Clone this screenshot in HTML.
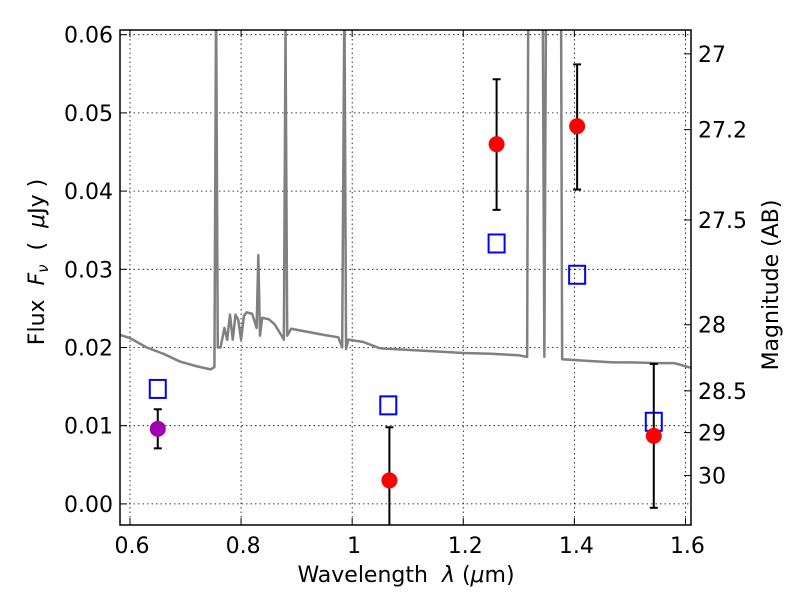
<!DOCTYPE html>
<html><head><meta charset="utf-8"><style>
body{margin:0;background:#fff}
svg text{font-family:"DejaVu Sans","Liberation Sans",sans-serif;fill:#000}
</style></head><body>
<svg id="chart" width="800" height="600">
<rect width="800" height="600" fill="#fff"/>
<g id="grid"></g>
<g id="spec"></g>
<g id="marks"></g>
<rect x="120" y="30" width="571" height="495" fill="none" stroke="#000" stroke-width="1.5"/>
<g id="axes"></g>
<text x="406" y="582" font-size="22" text-anchor="middle" xml:space="preserve">Wavelength  <tspan font-style="italic">λ</tspan> (<tspan font-style="italic">μ</tspan>m)</text>
<text transform="translate(44,262) rotate(-90)" font-size="22" text-anchor="middle" xml:space="preserve">Flux  <tspan font-style="italic">F</tspan><tspan font-style="italic" font-size="15" dy="4">ν</tspan><tspan dy="-4">  (  </tspan><tspan font-style="italic">μ</tspan>Jy )</text>
<text transform="translate(778,285) rotate(-90)" font-size="22" text-anchor="middle">Magnitude (AB)</text>
</svg>
<script>
const xTicks=[0.6,0.8,1.0,1.2,1.4,1.6];
const xTickLabels=["0.6","0.8","1","1.2","1.4","1.6"];
const yTicks=[0,0.01,0.02,0.03,0.04,0.05,0.06];
const yTickLabels=["0.00","0.01","0.02","0.03","0.04","0.05","0.06"];
const magTicks=[27,27.2,27.5,28,28.5,29,30];
const magTickLabels=["27","27.2","27.5","28","28.5","29","30"];
const specWave=[0.582,0.60,0.63,0.66,0.69,0.72,0.745,0.752,0.755,0.758,0.763,0.77,0.775,0.78,0.785,0.79,0.795,0.80,0.805,0.81,0.82,0.828,0.831,0.834,0.838,0.85,0.86,0.873,0.877,0.880,0.883,0.89,0.92,0.95,0.975,0.982,0.986,0.989,0.993,1.02,1.05,1.1,1.15,1.2,1.25,1.30,1.315,1.317,1.343,1.346,1.349,1.376,1.378,1.42,1.47,1.50,1.55,1.58,1.61];
const specFlux=[0.0216,0.0212,0.0200,0.0192,0.0182,0.0176,0.0172,0.0175,0.065,0.0200,0.0200,0.0225,0.0210,0.0242,0.0210,0.0242,0.0235,0.0210,0.0240,0.0245,0.0243,0.0225,0.0318,0.0215,0.0238,0.0236,0.0230,0.0215,0.0210,0.0605,0.0215,0.0224,0.0220,0.0216,0.0213,0.0200,0.065,0.0198,0.0210,0.0207,0.0199,0.0197,0.0195,0.0193,0.0192,0.0190,0.0188,0.065,0.065,0.0188,0.065,0.065,0.0185,0.0183,0.0181,0.0181,0.0180,0.0180,0.0174];
const modelWave=[0.65,1.065,1.26,1.405,1.543];
const modelFlux=[0.0147,0.0126,0.0333,0.0293,0.0105];
const obsWave=[0.65,1.067,1.26,1.405,1.543];
const obsFlux=[0.0096,0.0030,0.0460,0.0483,0.0087];
const obsLo=[0.0071,-0.0040,0.0376,0.0402,-0.0005];
const obsHi=[0.0121,0.0098,0.0543,0.0562,0.0179];
const obsColor=["#a000b0","red","red","red","red"];

const L=120,R=691,T=30,B=525,X0=0.582,X1=1.610,Y0=-0.0027,Y1=0.0606;
const sx=v=>L+(v-X0)/(X1-X0)*(R-L);
const sy=v=>B-(v-Y0)/(Y1-Y0)*(B-T);
const NS="http://www.w3.org/2000/svg";
function mk(parent,tag,attrs){const e=document.createElementNS(NS,tag);for(const k in attrs)e.setAttribute(k,attrs[k]);parent.appendChild(e);return e;}
const grid=document.getElementById('grid'),axes=document.getElementById('axes'),spec=document.getElementById('spec'),marks=document.getElementById('marks');
xTicks.forEach((v,i)=>{
 const x=sx(v);
 let g=mk(grid,'line',{x1:x,x2:x,y1:T,y2:B,stroke:'#000','stroke-width':0.8,'stroke-dasharray':'1.5,3'});
 
 
 mk(axes,'line',{x1:x,x2:x,y1:B,y2:B-7,stroke:'#000'});
 mk(axes,'line',{x1:x,x2:x,y1:T,y2:T+7,stroke:'#000'});
 let t=mk(axes,'text',{x:x+2,y:B+28,'font-size':22,'text-anchor':'middle'});t.textContent=xTickLabels[i];
 
 
});
yTicks.forEach((v,i)=>{
 const y=sy(v);
 let g=mk(grid,'line',{x1:L,x2:R,y1:y,y2:y,stroke:'#000','stroke-width':0.8,'stroke-dasharray':'1.5,3'});
 
 
 mk(axes,'line',{x1:L,x2:L+7,y1:y,y2:y,stroke:'#000'});
 let t=mk(axes,'text',{x:L-7,y:y+8,'font-size':22,'text-anchor':'end'});t.textContent=yTickLabels[i];
 
 
});
magTicks.forEach((m,i)=>{
 const y=sy(Math.pow(10,(23.9-m)/2.5));
 mk(axes,'line',{x1:R,x2:R-7,y1:y,y2:y,stroke:'#000'});
 let t=mk(axes,'text',{x:R+7,y:y+8,'font-size':22});t.textContent=magTickLabels[i];
 
 
});
const clip=mk(document.getElementById('chart'),'clipPath',{id:'pc'});mk(clip,'rect',{x:L,y:T,width:R-L,height:B-T});
spec.setAttribute('clip-path','url(#pc)');
let p=mk(spec,'polyline',{points:specWave.map((w,i)=>sx(w)+','+sy(specFlux[i])).join(' '),fill:'none',stroke:'#808080','stroke-width':2.5,'stroke-linejoin':'round'});


marks.setAttribute('clip-path','url(#pc)');
modelWave.forEach((w,i)=>{
 let r=mk(marks,'rect',{x:sx(w)-8,y:sy(modelFlux[i])-9,width:16,height:18,fill:'none',stroke:'blue','stroke-width':2});
 
 
});
obsWave.forEach((w,i)=>{
 const x=sx(w);
 let e=mk(marks,'g',{stroke:'#000','stroke-width':2});
 
 
 mk(e,'line',{x1:x,x2:x,y1:sy(obsLo[i]),y2:sy(obsHi[i])});
 mk(e,'line',{x1:x-4,x2:x+4,y1:sy(obsLo[i]),y2:sy(obsLo[i])});
 mk(e,'line',{x1:x-4,x2:x+4,y1:sy(obsHi[i]),y2:sy(obsHi[i])});
 let c=mk(marks,'ellipse',{cx:x,cy:sy(obsFlux[i]),rx:8,ry:8,fill:obsColor[i]});
 
 
});
</script>
</body></html>
